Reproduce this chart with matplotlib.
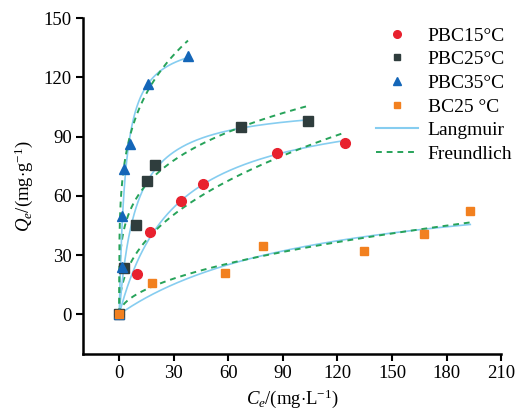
import matplotlib
matplotlib.use('Agg')

import numpy as np
import matplotlib.pyplot as plt
from matplotlib.lines import Line2D

plt.rcParams['font.family'] = ['Liberation Serif', 'DejaVu Serif']
plt.rcParams['mathtext.fontset'] = 'custom'
plt.rcParams['mathtext.rm'] = 'Liberation Serif'
plt.rcParams['mathtext.it'] = 'Liberation Serif:italic'

# measured points (Ce in mg/L, Qe in mg/g)
labels = ['PBC15\u00b0C', 'PBC25\u00b0C', 'PBC35\u00b0C', 'BC25 \u00b0C']
ce_pbc15 = [0, 9.7, 16.7, 34.0, 46.2, 86.6, 124.4]
qe_pbc15 = [0, 20.2, 41.8, 57.6, 65.8, 81.5, 87.0]
ce_pbc25 = [0, 2.8, 9.2, 15.2, 19.8, 67.0, 103.6]
qe_pbc25 = [0, 23.6, 45.1, 67.5, 75.8, 95.1, 97.8]
ce_pbc35 = [0, 1.5, 1.5, 2.8, 5.9, 15.8, 37.8]
qe_pbc35 = [0, 23.9, 49.6, 73.6, 86.4, 116.7, 130.8]
ce_bc25 = [0, 18.0, 58.0, 79.3, 134.3, 167.3, 193.0]
qe_bc25 = [0, 16.0, 20.7, 34.8, 32.2, 40.6, 52.4]

# fitted isotherm parameters
langmuir_qm = [109.9, 107.1, 141.6, 71.6]
langmuir_k = [0.0324, 0.110, 0.297, 0.00904]
freundlich_kf = [11.98, 34.0, 59.9, 3.23]
freundlich_inv_n = [0.423, 0.244, 0.231, 0.507]

ce_all = [ce_pbc15, ce_pbc25, ce_pbc35, ce_bc25]
qe_all = [qe_pbc15, qe_pbc25, qe_pbc35, qe_bc25]
colors = ['#e8212e', '#2f3d3d', '#1466b8', '#f2801f']
markers = ['o', 's', '^', 's']
msizes = [7, 6.5, 7.5, 6]

lang_color = '#86cdf0'
freu_color = '#27a35a'

fig = plt.figure(figsize=(5.21, 4.11), dpi=100)
ax = fig.add_axes([0.159, 0.139, 0.803, 0.817])

for ce, qe, c, m, ms, qm, kl, kf, invn in zip(ce_all, qe_all, colors, markers, msizes,
                                             langmuir_qm, langmuir_k, freundlich_kf, freundlich_inv_n):
    x = np.linspace(0, max(ce), 300)
    ax.plot(x, qm * kl * x / (1 + kl * x), color=lang_color, lw=1.2, zorder=2)
    ax.plot(x, kf * x ** invn, color=freu_color, lw=1.4, ls=(0, (3, 2.5)), zorder=2)
    ax.plot(ce, qe, ls='none', marker=m, color=c, ms=ms, mec=c, zorder=3)

ax.set_xlim(-20, 210)
ax.set_ylim(-20, 150)
ax.set_xticks(np.arange(0, 211, 30))
ax.set_yticks(np.arange(0, 151, 30))
for s in ['top', 'right']:
    ax.spines[s].set_visible(False)
for s in ['left', 'bottom']:
    ax.spines[s].set_linewidth(1.8)
ax.tick_params(direction='out', length=5, width=1.5, labelsize=13.5, pad=3)

ax.set_xlabel(r'$C_e$/(mg$\cdot$L$^{-1}$)', fontsize=13.5, labelpad=4)
ax.set_ylabel(r'$Q_e$/(mg$\cdot$g$^{-1}$)', fontsize=13.5, labelpad=6)

handles = [Line2D([], [], ls='none', marker=m, color=c, ms=ms - 1.5) for c, m, ms in zip(colors, markers, msizes)]
handles += [Line2D([], [], color=lang_color, lw=1.5),
            Line2D([], [], color=freu_color, lw=1.4, ls=(0, (3, 2.5)))]
fig.legend(handles, labels + ['Langmuir', 'Freundlich'], loc='upper left',
           bbox_to_anchor=(376 / 521, 1 - 27 / 411), bbox_transform=fig.transFigure,
           frameon=False, fontsize=14, borderpad=0, borderaxespad=0,
           handlelength=2.15, labelspacing=0.31, handletextpad=0.5)

fig.savefig('out.png', dpi=100)
